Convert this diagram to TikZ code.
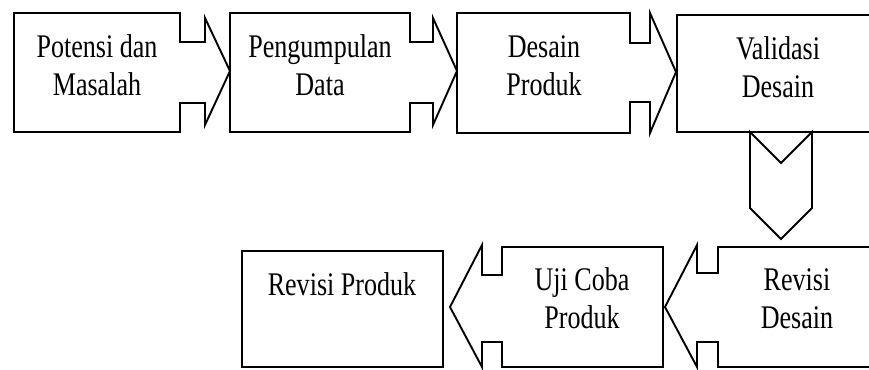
\documentclass[tikz,border=0pt]{standalone}
\usepackage{fontspec}
\setmainfont[FakeStretch=0.79]{Liberation Serif}
\usetikzlibrary{positioning}

\begin{document}
\begin{tikzpicture}[x=1pt,y=-1pt]
          \useasboundingbox (0,0) rectangle (869,369);
          \clip (0,0) rectangle (869,369);
          \begin{scope}[every path/.style={draw=black,line width=1.9pt,line join=miter}]
            % top row
            \path (14,13) -- (180,13) -- (180,42) -- (205,42) -- (205,18) -- (230,71)
              -- (205,125) -- (205,103) -- (180,103) -- (180,132) -- (14,132) -- cycle;
            \path (230,13) -- (410,13) -- (410,42) -- (433,42) -- (433,18) -- (457,71)
              -- (433,125) -- (433,103) -- (410,103) -- (410,132) -- (230,132) -- cycle;
            \path (457,13) -- (630,13) -- (630,43) -- (650,43) -- (650,13) -- (676,72)
              -- (650,133) -- (650,102) -- (630,102) -- (630,133) -- (457,133) -- cycle;
            \path (677,15) rectangle (885,132);
            % down
            \path (750,132) -- (781,163) -- (812,132) -- (812,208) -- (781,239) -- (750,208) -- cycle;
            % bottom row
            \path (885,247) -- (718,247) -- (718,273) -- (697,273) -- (697,245) -- (665,307)
              -- (697,367) -- (697,342) -- (718,342) -- (718,367) -- (885,367) -- cycle;
            \path (663,247) -- (502,247) -- (502,275) -- (482,275) -- (482,245) -- (450,307)
              -- (482,367) -- (482,342) -- (502,342) -- (502,367) -- (663,367) -- cycle;
            \path (242,251) rectangle (443,367);
          \end{scope}
          \begin{scope}[every node/.style={align=center,inner sep=0pt,anchor=base,
              font=\fontsize{33}{38}\selectfont}]
            \node (potensi) at (97,95) {Potensi dan\\Masalah};
            \node (data) at (320,95) {Pengumpulan\\Data};
            \node (desain) at (544,95) {Desain\\Produk};
            \node (validasi) at (778,97) {Validasi\\Desain};
            \node (revdesain) at (797,328) {Revisi\\Desain};
            \node (ujicoba) at (582,328) {Uji Coba\\Produk};
            \node (revproduk) at (342,295) {Revisi Produk};
          \end{scope}
        \end{tikzpicture}
\end{document}
